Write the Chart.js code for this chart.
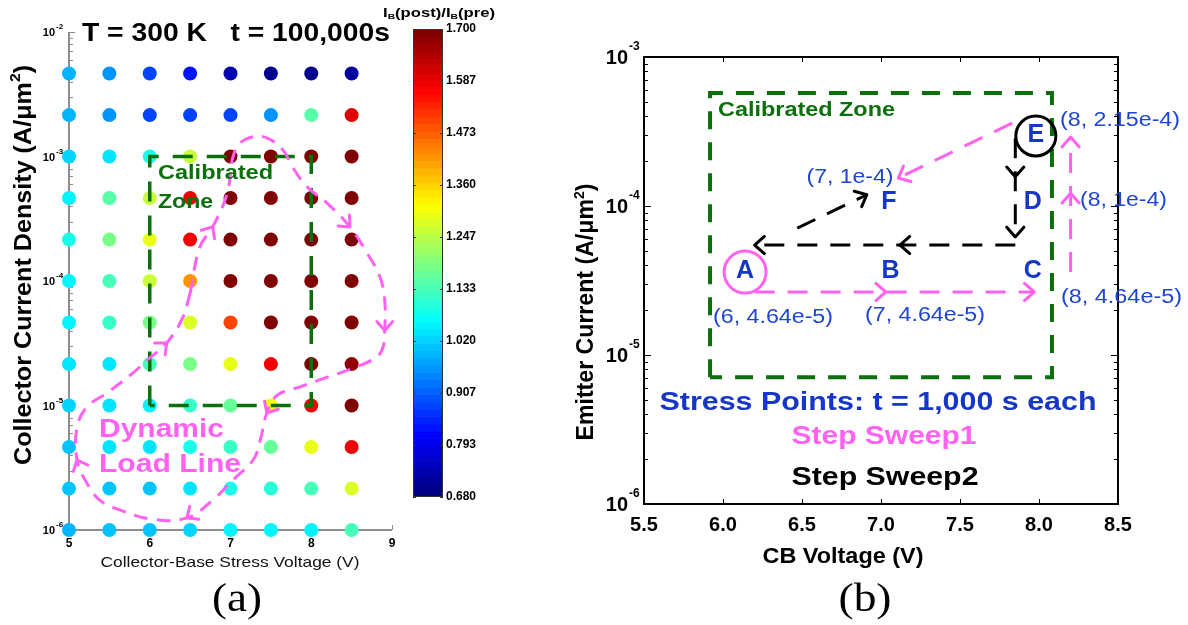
<!DOCTYPE html>
<html><head><meta charset="utf-8">
<script src="https://cdn.jsdelivr.net/npm/chart.js@4.4.1/dist/chart.umd.min.js"></script>
<style>
html,body{margin:0;padding:0;background:#fff;width:1188px;height:625px;overflow:hidden}
.c{position:absolute}
</style></head><body>
<div class="c" style="left:0;top:0;width:400px;height:625px"><canvas id="ca"></canvas></div>
<div class="c" style="left:378px;top:0;width:122px;height:520px"><canvas id="cb"></canvas></div>
<div class="c" style="left:560px;top:0;width:628px;height:625px"><canvas id="cc"></canvas></div>
<script>
// ---------- DATA: panel (a) ----------
const stressVoltage = [5, 5.5, 6, 6.5, 7, 7.5, 8, 8.5];
const currentDensity = [4.64e-3, 2.15e-3, 1e-3, 4.64e-4, 2.15e-4, 1e-4, 4.64e-5, 2.15e-5, 1e-5, 4.64e-6, 2.15e-6, 1e-6];
const ibRatio = [
  [0.99, 0.95, 0.87, 0.82, 0.73, 0.70, 0.70, 0.72],
  [0.98, 0.95, 0.875, 0.87, 0.875, 0.96, 1.15, 1.60],
  [1.02, 1.03, 1.09, 1.26, 1.70, 1.70, 1.70, 1.70],
  [1.06, 1.15, 1.27, 1.59, 1.70, 1.70, 1.70, 1.70],
  [1.08, 1.19, 1.29, 1.58, 1.70, 1.70, 1.70, 1.70],
  [1.06, 1.14, 1.26, 1.43, 1.70, 1.70, 1.70, 1.70],
  [1.05, 1.12, 1.18, 1.28, 1.50, 1.70, 1.70, 1.70],
  [1.04, 1.04, 1.13, 1.19, 1.30, 1.58, 1.70, 1.68],
  [1.02, 1.03, 1.05, 1.11, 1.17, 1.31, 1.59, 1.70],
  [1.01, 1.03, 1.04, 1.08, 1.11, 1.16, 1.30, 1.59],
  [1.00, 1.01, 1.01, 1.04, 1.08, 1.10, 1.14, 1.28],
  [0.99, 1.00, 1.01, 1.02, 1.05, 1.05, 1.055, 1.14]
];
const calZoneV = [6, 8];
const calZoneI = [1e-5, 1e-3];
const loadLineV = [6.50,6.62,6.78,6.96,7.03,7.12,7.28,7.45,7.65,7.77,7.95,8.20,8.48,8.69,8.85,8.91,8.91,8.89,8.81,8.52,8.20,7.86,7.58,7.45,7.37,7.28,7.03,6.78,6.46,6.04,5.63,5.38,5.22,5.10,5.10,5.22,5.47,5.79,5.97,6.21,6.41,6.50];
const loadLineI = [8.0e-5,1.87e-4,2.72e-4,5.1e-4,9.9e-4,1.28e-3,1.44e-3,1.41e-3,1.13e-3,8.2e-4,5.7e-4,4.2e-4,2.72e-4,1.68e-4,1.08e-4,7.0e-5,4.0e-5,2.95e-5,2.45e-5,2.0e-5,1.69e-5,1.41e-5,1.21e-5,8.7e-6,5.3e-6,3.65e-6,2.52e-6,1.74e-6,1.25e-6,1.22e-6,1.45e-6,1.74e-6,2.39e-6,3.65e-6,6.7e-6,9.7e-6,1.26e-5,1.82e-5,2.32e-5,3.18e-5,5.1e-5,8.0e-5];
const loadLineArrows = [2, 12, 16, 23, 28, 33, 39];
const xTicksA = [5, 6, 7, 8, 9];
const yDecadesA = [-2, -3, -4, -5, -6];
// colorbar
const cbMin = 0.68, cbMax = 1.70, cbSteps = 64;
const cbTicks = [0.680, 0.793, 0.907, 1.020, 1.133, 1.247, 1.360, 1.473, 1.587, 1.700];

// ---------- DATA: panel (b) ----------
const ptLabels = ['A', 'B', 'C', 'D', 'E', 'F'];
const ptV = [6.14, 7.06, 7.96, 7.96, 7.98, 7.05];
const ptI = [3.6e-5, 3.6e-5, 3.6e-5, 1.05e-4, 2.95e-4, 1.05e-4];
const sweep1V = [[6.20, 7.03, 7.97], [8.20, 8.20, 8.20], [7.83, 7.11]];
const sweep1I = [[2.65e-5, 2.65e-5, 2.65e-5], [3.6e-5, 1.22e-4, 2.9e-4], [3.6e-4, 1.54e-4]];
const sweep2V = [[7.85, 7.85, 7.85], [7.85, 7.12, 6.20], [6.47, 6.91]];
const sweep2I = [[2.85e-4, 1.57e-4, 6.2e-5], [5.47e-5, 5.47e-5, 5.47e-5], [7.1e-5, 1.19e-4]];
const zoneV = [5.918, 8.082];
const zoneI = [7.1e-6, 5.73e-4];
const xTicksB = [5.5, 6.0, 6.5, 7.0, 7.5, 8.0, 8.5];
const yDecadesB = [-3, -4, -5, -6];

// ---------- styling helpers ----------
const PINK = '#ff62f0', GREEN = '#0b700b', BLUE = '#1636c8', LBLUE = '#1e46d2';
const SANS = '"Liberation Sans", Arial, sans-serif';
const SERIF = '"Liberation Serif", "Times New Roman", serif';
Chart.defaults.font.family = SANS;

function jet(v) {
  let t = (v - cbMin) / (cbMax - cbMin);
  t = Math.min(1, Math.max(0, t));
  t = Math.round(t * 63) / 63;
  const f = x => Math.round(255 * Math.min(1, Math.max(0, 1.5 - Math.abs(x))));
  return `rgb(${f(4 * t - 3)},${f(4 * t - 2)},${f(4 * t - 1)})`;
}
function drawRuns(ctx, runs, x, y, color, align, w, rot) {
  ctx.save();
  ctx.translate(x, y);
  if (rot) ctx.rotate(rot);
  let total = 0;
  runs.forEach(r => { ctx.font = r.font; r.w = ctx.measureText(r.t).width; total += r.w; });
  if (w) ctx.scale(w / total, 1);
  let cx = align === 'center' ? -total / 2 : align === 'right' ? -total : 0;
  ctx.fillStyle = color; ctx.textBaseline = 'middle'; ctx.textAlign = 'left';
  runs.forEach(r => { ctx.font = r.font; ctx.fillText(r.t, cx, r.dy || 0); cx += r.w; });
  ctx.restore();
}
function txt(ctx, s, x, y, font, color, align, w, rot) {
  drawRuns(ctx, [{ t: s, font: font }], x, y, color, align || 'center', w, rot);
}
function arrowHead(ctx, x, y, ang, len, color, lw) {
  ctx.save();
  ctx.strokeStyle = color; ctx.lineWidth = lw; ctx.lineCap = 'round'; ctx.lineJoin = 'round';
  ctx.setLineDash([]);
  ctx.beginPath();
  ctx.moveTo(x - len * Math.cos(ang - 0.72), y - len * Math.sin(ang - 0.72));
  ctx.lineTo(x, y);
  ctx.lineTo(x - len * Math.cos(ang + 0.72), y - len * Math.sin(ang + 0.72));
  ctx.stroke();
  ctx.restore();
}
function drawHeads(chart, len) {
  chart.data.datasets.forEach((ds, i) => {
    if (!ds.heads) return;
    const pts = chart.getDatasetMeta(i).data;
    ds.heads.forEach(j => {
      const a = pts[j - 1], b = pts[j];
      arrowHead(chart.ctx, b.x, b.y, Math.atan2(b.y - a.y, b.x - a.x), len, ds.borderColor, ds.borderWidth);
    });
  });
}
function minorLog(lo, hi) {
  const out = [];
  for (let e = lo; e < hi; e++) for (let m = 1; m <= 9; m++) out.push({ v: m * Math.pow(10, e), major: m === 1 });
  out.push({ v: Math.pow(10, hi), major: true });
  return out;
}
function fixedAxis(extra) {
  return Object.assign({ ticks: { display: false }, grid: { display: false }, border: { display: false } }, extra);
}

// ---------- panel (a) ----------
const dots = [], dotColors = [];
currentDensity.forEach((cd, r) => stressVoltage.forEach((v, c) => {
  dots.push({ x: v, y: cd });
  dotColors.push(jet(ibRatio[r][c]));
}));
const rectA = [
  { x: calZoneV[0], y: calZoneI[0] }, { x: calZoneV[0], y: calZoneI[1] },
  { x: calZoneV[1], y: calZoneI[1] }, { x: calZoneV[1], y: calZoneI[0] }, { x: calZoneV[0], y: calZoneI[0] }];
const loadPts = loadLineV.map((v, i) => ({ x: v, y: loadLineI[i] }));

const panelA = {
  id: 'panelA',
  beforeDatasetsDraw(chart) {
    const { ctx, chartArea: a, scales: { x, y } } = chart;
    ctx.save();
    ctx.strokeStyle = '#8e8e8e'; ctx.lineWidth = 2;
    ctx.beginPath(); ctx.moveTo(a.left, a.top); ctx.lineTo(a.left, a.bottom); ctx.lineTo(a.right, a.bottom); ctx.stroke();
    ctx.lineWidth = 1;
    minorLog(-6, -2).forEach(t => {
      const py = Math.round(y.getPixelForValue(t.v)) + 0.5;
      ctx.beginPath(); ctx.moveTo(a.left, py); ctx.lineTo(a.left + (t.major ? 6 : 4), py); ctx.stroke();
    });
    xTicksA.forEach(v => {
      const px = Math.round(x.getPixelForValue(v)) + 0.5;
      ctx.beginPath(); ctx.moveTo(px, a.bottom); ctx.lineTo(px, a.bottom - 5); ctx.stroke();
    });
    ctx.restore();
  },
  afterDatasetsDraw(chart) {
    const { ctx, scales: { x, y } } = chart;
    drawHeads(chart, 12);
    // tick labels
    yDecadesA.forEach(e => {
      const py = y.getPixelForValue(Math.pow(10, e));
      txt(ctx, '10', 55, py + 1, 'bold 11px ' + SANS, '#000', 'right');
      txt(ctx, String(e), 56, py - 5, 'bold 8px ' + SANS, '#000', 'left');
    });
    xTicksA.forEach(v => txt(ctx, String(v), x.getPixelForValue(v), 544, 'bold 12px ' + SANS, '#000', 'center'));
    // titles
    txt(ctx, 'T = 300 K   t = 100,000s', 236, 34, 'bold 26px ' + SANS, '#000', 'center', 308);
    drawRuns(ctx, [
      { t: 'Collector Current Density (A/\u03bcm', font: 'bold 24px ' + SANS },
      { t: '2', font: 'bold 15px ' + SANS, dy: -8 },
      { t: ')', font: 'bold 24px ' + SANS }], 24, 265, '#000', 'center', 400, -Math.PI / 2);
    txt(ctx, 'Collector-Base Stress Voltage (V)', 230, 563, '15px ' + SANS, '#111', 'center', 259);
    txt(ctx, '(a)', 237, 600, '40px ' + SERIF, '#000', 'center', 50);
    // annotations
    txt(ctx, 'Calibrated', 158, 173, 'bold 21px ' + SANS, GREEN, 'left', 115);
    txt(ctx, 'Zone', 158, 202, 'bold 21px ' + SANS, GREEN, 'left', 55);
    txt(ctx, 'Dynamic', 99, 430, 'bold 25px ' + SANS, PINK, 'left', 125);
    txt(ctx, 'Load Line', 99, 465, 'bold 25px ' + SANS, PINK, 'left', 142);
  }
};

new Chart(document.getElementById('ca'), {
  type: 'scatter',
  data: {
    datasets: [
      { data: dots, backgroundColor: dotColors, pointRadius: 7, pointBorderWidth: 0, borderWidth: 0, clip: false, order: 3 },
      { data: rectA, showLine: true, borderColor: GREEN, borderWidth: 3.5, borderDash: [20, 14], pointRadius: 0, tension: 0, clip: false, order: 2 },
      { data: loadPts, showLine: true, borderColor: PINK, borderWidth: 3, borderDash: [14, 9], pointRadius: 0, tension: 0.4, clip: false, order: 1, heads: loadLineArrows }
    ]
  },
  options: {
    responsive: true, maintainAspectRatio: false, animation: false, events: [],
    layout: { padding: { left: 0, right: 8, top: 32, bottom: 0 } },
    plugins: { legend: { display: false }, tooltip: { enabled: false } },
    scales: {
      x: fixedAxis({ type: 'linear', min: 5, max: 9, afterFit: s => { s.height = 95; } }),
      y: fixedAxis({ type: 'logarithmic', min: 1e-6, max: 1e-2, afterFit: s => { s.width = 69; } })
    }
  },
  plugins: [panelA]
});

// ---------- colorbar ----------
const cbBins = [], cbColors = [];
for (let k = 0; k < cbSteps; k++) {
  const lo = cbMin + k * (cbMax - cbMin) / cbSteps, hi = cbMin + (k + 1) * (cbMax - cbMin) / cbSteps;
  cbBins.push({ x: 'c', y: [lo, hi] });
  cbColors.push(jet((lo + hi) / 2));
}
const cbPlugin = {
  id: 'cbPlugin',
  afterDatasetsDraw(chart) {
    const { ctx, chartArea: a, scales: { y } } = chart;
    ctx.save();
    ctx.strokeStyle = '#333'; ctx.lineWidth = 1;
    ctx.strokeRect(a.left + 0.5, a.top + 0.5, a.right - a.left - 1, a.bottom - a.top - 1);
    cbTicks.forEach(v => {
      const py = Math.round(y.getPixelForValue(v)) + 0.5;
      ctx.beginPath(); ctx.moveTo(a.left, py); ctx.lineTo(a.left + 3, py); ctx.moveTo(a.right, py); ctx.lineTo(a.right - 3, py); ctx.stroke();
      txt(ctx, v.toFixed(3), a.right + 3, y.getPixelForValue(v), 'bold 12px ' + SANS, '#000', 'left');
    });
    ctx.restore();
    drawRuns(ctx, [
      { t: 'I', font: 'bold 13px ' + SANS }, { t: 'B', font: 'bold 8px ' + SANS, dy: 4 },
      { t: '(post)/I', font: 'bold 13px ' + SANS }, { t: 'B', font: 'bold 8px ' + SANS, dy: 4 },
      { t: '(pre)', font: 'bold 13px ' + SANS }], 61, 13, '#000', 'center', 112);
  }
};
new Chart(document.getElementById('cb'), {
  type: 'bar',
  data: { labels: ['c'], datasets: [{ data: cbBins, backgroundColor: cbColors, barThickness: 30, borderWidth: 0 }] },
  options: {
    responsive: true, maintainAspectRatio: false, animation: false, events: [],
    layout: { padding: { left: 35, right: 0, top: 29, bottom: 23 } },
    plugins: { legend: { display: false }, tooltip: { enabled: false } },
    scales: {
      x: { display: false },
      y: fixedAxis({ type: 'linear', position: 'right', min: cbMin, max: cbMax, afterFit: s => { s.width = 57; } })
    }
  },
  plugins: [cbPlugin]
});

// ---------- panel (b) ----------
const OX = 560;
const rectB = [
  { x: zoneV[0], y: zoneI[0] }, { x: zoneV[0], y: zoneI[1] },
  { x: zoneV[1], y: zoneI[1] }, { x: zoneV[1], y: zoneI[0] }, { x: zoneV[0], y: zoneI[0] }];
const pathDs = (vs, is, color) => vs.map((v, k) => ({
  data: v.map((xv, j) => ({ x: xv, y: is[k][j] })), showLine: true, borderColor: color, borderWidth: 3,
  borderDash: [20, 13], pointRadius: 0, tension: 0, clip: false, order: 2,
  heads: v.map((_, j) => j).filter(j => j > 0)
}));
const panelB = {
  id: 'panelB',
  beforeDatasetsDraw(chart) {
    const { ctx, chartArea: a, scales: { x, y } } = chart;
    ctx.save();
    ctx.strokeStyle = '#000'; ctx.lineWidth = 2;
    ctx.strokeRect(a.left, a.top, a.right - a.left, a.bottom - a.top);
    ctx.lineWidth = 1;
    minorLog(-6, -3).forEach(t => {
      const py = Math.round(y.getPixelForValue(t.v)) + 0.5, L = t.major ? 7 : 4;
      ctx.beginPath(); ctx.moveTo(a.left, py); ctx.lineTo(a.left + L, py); ctx.moveTo(a.right, py); ctx.lineTo(a.right - L, py); ctx.stroke();
    });
    xTicksB.forEach(v => {
      const px = Math.round(x.getPixelForValue(v)) + 0.5;
      ctx.beginPath(); ctx.moveTo(px, a.bottom); ctx.lineTo(px, a.bottom - 5); ctx.moveTo(px, a.top); ctx.lineTo(px, a.top + 5); ctx.stroke();
    });
    ctx.restore();
  },
  afterDatasetsDraw(chart) {
    const { ctx, scales: { x, y } } = chart;
    drawHeads(chart, 13);
    // point letters
    ptLabels.forEach((l, i) => txt(ctx, l, x.getPixelForValue(ptV[i]), y.getPixelForValue(ptI[i]) - 1, 'bold 25px ' + SANS, BLUE, 'center'));
    // coordinate notes
    const R = '20px ' + SANS;
    txt(ctx, 'Calibrated Zone', 718 - OX, 110, 'bold 20px ' + SANS, GREEN, 'left', 177);
    txt(ctx, '(7, 1e-4)', 850 - OX, 177, R, LBLUE, 'center', 87);
    txt(ctx, '(6, 4.64e-5)', 713 - OX, 317, R, LBLUE, 'left', 120);
    txt(ctx, '(7, 4.64e-5)', 865 - OX, 315, R, LBLUE, 'left', 120);
    txt(ctx, '(8, 2.15e-4)', 1060 - OX, 120, R, LBLUE, 'left', 120);
    txt(ctx, '(8, 1e-4)', 1080 - OX, 200, R, LBLUE, 'left', 87);
    txt(ctx, '(8, 4.64e-5)', 1061 - OX, 297, R, LBLUE, 'left', 121);
    txt(ctx, 'Stress Points: t = 1,000 s each', 878 - OX, 403, 'bold 26px ' + SANS, BLUE, 'center', 437);
    txt(ctx, 'Step Sweep1', 884 - OX, 437, 'bold 26px ' + SANS, PINK, 'center', 185);
    txt(ctx, 'Step Sweep2', 885 - OX, 478, 'bold 26px ' + SANS, '#000', 'center', 187);
    // ticks
    yDecadesB.forEach(e => {
      const py = y.getPixelForValue(Math.pow(10, e));
      txt(ctx, '10', 628 - OX, py + 1, 'bold 20px ' + SANS, '#000', 'right');
      txt(ctx, String(e), 629 - OX, py - 10, 'bold 12px ' + SANS, '#000', 'left');
    });
    xTicksB.forEach(v => txt(ctx, v.toFixed(1), x.getPixelForValue(v), 525, 'bold 20px ' + SANS, '#000', 'center'));
    txt(ctx, 'CB Voltage (V)', 843 - OX, 557, 'bold 22px ' + SANS, '#000', 'center', 161);
    drawRuns(ctx, [
      { t: 'Emitter Current (A/\u03bcm', font: 'bold 23px ' + SANS },
      { t: '2', font: 'bold 14px ' + SANS, dy: -7 },
      { t: ')', font: 'bold 23px ' + SANS }], 587 - OX, 312, '#000', 'center', 257, -Math.PI / 2);
    txt(ctx, '(b)', 865 - OX, 600, '40px ' + SERIF, '#000', 'center', 53);
  }
};
new Chart(document.getElementById('cc'), {
  type: 'scatter',
  data: {
    datasets: [
      { data: rectB, showLine: true, borderColor: GREEN, borderWidth: 4, borderDash: [18, 13], pointRadius: 0, tension: 0, clip: false, order: 4 },
      ...pathDs(sweep1V, sweep1I, PINK),
      ...pathDs(sweep2V, sweep2I, '#000'),
      { data: [{ x: ptV[0], y: ptI[0] }], pointRadius: 21, pointBorderWidth: 3, pointBorderColor: PINK, pointBackgroundColor: 'rgba(0,0,0,0)', clip: false, order: 1 },
      { data: [{ x: ptV[4], y: ptI[4] }], pointRadius: 20, pointBorderWidth: 3, pointBorderColor: '#000', pointBackgroundColor: 'rgba(0,0,0,0)', clip: false, order: 1 }
    ]
  },
  options: {
    responsive: true, maintainAspectRatio: false, animation: false, events: [],
    layout: { padding: { left: 0, right: 70, top: 57, bottom: 0 } },
    plugins: { legend: { display: false }, tooltip: { enabled: false } },
    scales: {
      x: fixedAxis({ type: 'linear', min: 5.5, max: 8.5, afterFit: s => { s.height = 121; } }),
      y: fixedAxis({ type: 'logarithmic', min: 1e-6, max: 1e-3, afterFit: s => { s.width = 84; } })
    }
  },
  plugins: [panelB]
});
</script>
</body></html>
